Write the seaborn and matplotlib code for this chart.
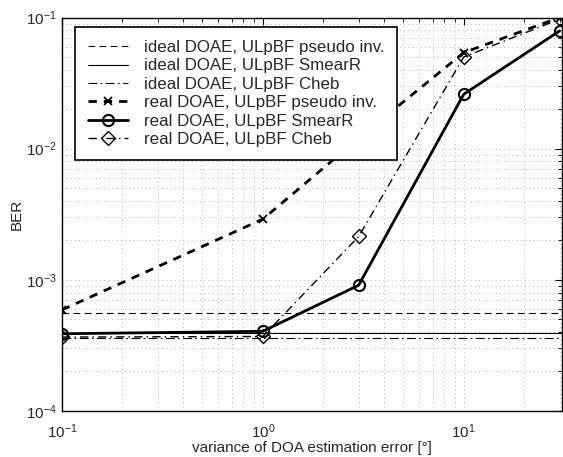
import numpy as np
import pandas as pd
import seaborn as sns
from matplotlib import pyplot as plt
from matplotlib.ticker import LogLocator, NullFormatter

sns.set_style("white")
plt.rcParams['font.family'] = ['Liberation Sans', 'DejaVu Sans']
plt.rcParams['mathtext.fontset'] = 'custom'
plt.rcParams['mathtext.rm'] = 'Liberation Sans'

variance = [0.1, 1, 3, 10, 30]

# ideal DOAE curves are flat
ideal_pinv = 5.6e-4
ideal_smear = 3.94e-4
ideal_cheb = 3.63e-4

real_pinv = [5.9e-4, 2.9e-3, 1.2e-2, 5.4e-2, 1.0e-1]
real_smear = [3.88e-4, 4.05e-4, 9.1e-4, 2.6e-2, 7.9e-2]
real_cheb = [3.66e-4, 3.7e-4, 2.14e-3, 5.0e-2, 9.7e-2]

labels = ["ideal DOAE, ULpBF pseudo inv.",
          "ideal DOAE, ULpBF SmearR",
          "ideal DOAE, ULpBF Cheb",
          "real DOAE, ULpBF pseudo inv.",
          "real DOAE, ULpBF SmearR",
          "real DOAE, ULpBF Cheb"]

fig = plt.figure(figsize=(5.63, 4.57), dpi=100)
ax = fig.add_axes([0.110, 0.1007, 0.888, 0.861])

ax.axhline(ideal_pinv, color="k", lw=0.8, ls=(0, (6, 4)), label=labels[0])
ax.axhline(ideal_smear, color="k", lw=0.8, ls="-", label=labels[1])
ax.axhline(ideal_cheb, color="k", lw=0.8, ls=(0, (8, 3, 1.5, 3)), label=labels[2])

df = pd.DataFrame({"x": variance, "pinv": real_pinv,
                   "smear": real_smear, "cheb": real_cheb})

real_styles = [
    ("pinv", 2.0, (0, (3, 2.5)), "x", 6, "k", 1.3),
    ("smear", 2.0, "-", "o", 8, "none", 1.5),
    ("cheb", 1.0, (0, (6, 3, 1, 3)), "D", 7, "none", 1.0),
]
for (col, lw, ls, mk, ms, mfc, mew), lab in zip(real_styles, labels[3:]):
    sns.lineplot(data=df, x="x", y=col, ax=ax, color="k", lw=lw, ls=ls,
                 label=lab)
    line = ax.lines[-1]
    line.set_marker(mk)
    line.set_markersize(ms)
    line.set_markerfacecolor(mfc)
    line.set_markeredgecolor("k")
    line.set_markeredgewidth(mew)

ax.set_xscale("log")
ax.set_yscale("log")
ax.set_xlim(0.1, 30.8)
ax.set_ylim(1e-4, 1e-1)
ax.set_xlabel("variance of DOA estimation error [°]", fontsize=11, labelpad=0)
ax.set_ylabel("BER", fontsize=11, labelpad=2)

ax.xaxis.set_minor_locator(LogLocator(base=10, subs=np.arange(2, 10)))
ax.yaxis.set_minor_locator(LogLocator(base=10, subs=np.arange(2, 10)))
ax.xaxis.set_minor_formatter(NullFormatter())
ax.yaxis.set_minor_formatter(NullFormatter())
ax.tick_params(which="both", direction="in", top=True, right=True,
               labelsize=11, color="k")
ax.tick_params(axis="x", which="major", pad=8)
ax.tick_params(which="major", length=5)
ax.tick_params(which="minor", length=3)
ax.grid(True, which="both", color="#999999", ls=(0, (1, 4)), lw=0.6)

for s in ax.spines.values():
    s.set_color("k")
    s.set_linewidth(1)

leg = ax.legend(loc="upper left", bbox_to_anchor=(0.026, 0.975),
                borderaxespad=0, fontsize=12.2, handlelength=2.4,
                handletextpad=0.9, labelspacing=0.2, fancybox=False,
                framealpha=1, edgecolor="k", borderpad=0.75)
leg.get_frame().set_linewidth(1.2)

fig.savefig("out.png", dpi=100)
